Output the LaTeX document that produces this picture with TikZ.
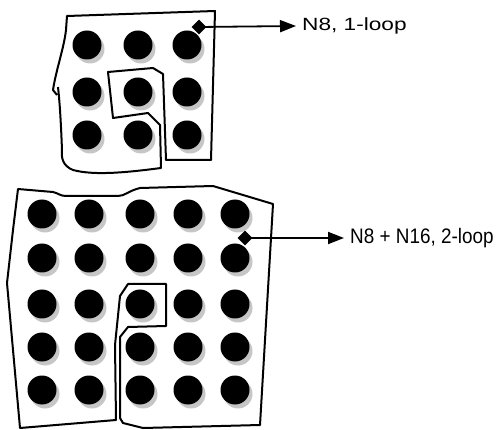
\documentclass[tikz,border=0pt]{standalone}
\usepackage{fontspec}
\setmainfont{Liberation Sans}
\usetikzlibrary{arrows.meta,shapes.geometric}
\begin{document}
\begin{tikzpicture}[x=1pt,y=-1pt,
  dot/.style={circle,fill=black,minimum size=29pt,inner sep=0pt},
  shade/.style={fill=gray!45},
  loop/.style={line width=2pt,line join=round},
  tap/.style={diamond,fill=black,minimum size=15pt,inner sep=0pt},
  lead/.style={line width=1.8pt,-{Triangle[length=16pt,width=12pt]}},
  lbl/.style={anchor=west,inner sep=0pt}]
\useasboundingbox (0,0) rectangle (498,430);

% --- 3x3 array ---
\foreach \c/\x in {1/87,2/138,3/187}{
  \foreach \r/\y in {1/45,2/92,3/135}{
    \fill[shade] (\x+3,\y+4) circle (14.5);
    \node[dot] (t\r\c) at (\x,\y) {};
  }
}
% single loop around the 3x3 array
\draw[loop] (57,95) -- (53,90) .. controls (56,70) and (64,48) .. (66,30) -- (67,16)
  -- (215,11) -- (211,160) -- (166,160) -- (163,74) -- (153,68) -- (108,72)
  -- (113,118) -- (148,113) -- (160,125) -- (161,168)
  .. controls (130,172) and (95,176) .. (73,170)
  .. controls (63,166) and (61,158) .. (62,150)
  .. controls (61,125) and (60,105) .. (58,87);

% --- 5x5 array ---
\foreach \c/\x in {1/42,2/89,3/140,4/188,5/235}{
  \foreach \r/\y in {1/214,2/258,3/304,4/347,5/390}{
    \fill[shade] (\x+3,\y+4) circle (14.5);
    \node[dot] (b\r\c) at (\x,\y) {};
  }
}
% double loop around the 5x5 array
\draw[loop] (18,189) -- (53,192) .. controls (58,193) and (60,196) .. (66,196)
  -- (118,196) .. controls (125,196) and (128,191) .. (140,188)
  -- (213,186) -- (233,192) -- (273,204) -- (260,425) -- (143,428)
  -- (123,423) -- (120,418) -- (120,337) -- (128,327) -- (166,326)
  -- (166,284) -- (128,284) -- (120,296) -- (115,345) -- (116,420)
  -- (20,428) -- (7,283) -- (13,230) -- cycle;

% --- taps and labels ---
\node[tap] (d1) at (199,27) {};
\node[lbl] (l1) at (302,26) {\fontsize{17.7pt}{20pt}\selectfont\scalebox{1.28}[1]{N8, 1-loop}};
\draw[lead] (d1.center) -- ([xshift=-6pt]l1.west);

\node[tap] (d2) at (245,238) {};
\node[lbl] (l2) at (350,238) {\fontsize{21pt}{24pt}\selectfont\scalebox{0.9}[1]{N8 + N16, 2-loop}};
\draw[lead] (d2.center) -- ([xshift=-6pt]l2.west);
\end{tikzpicture}
\end{document}
